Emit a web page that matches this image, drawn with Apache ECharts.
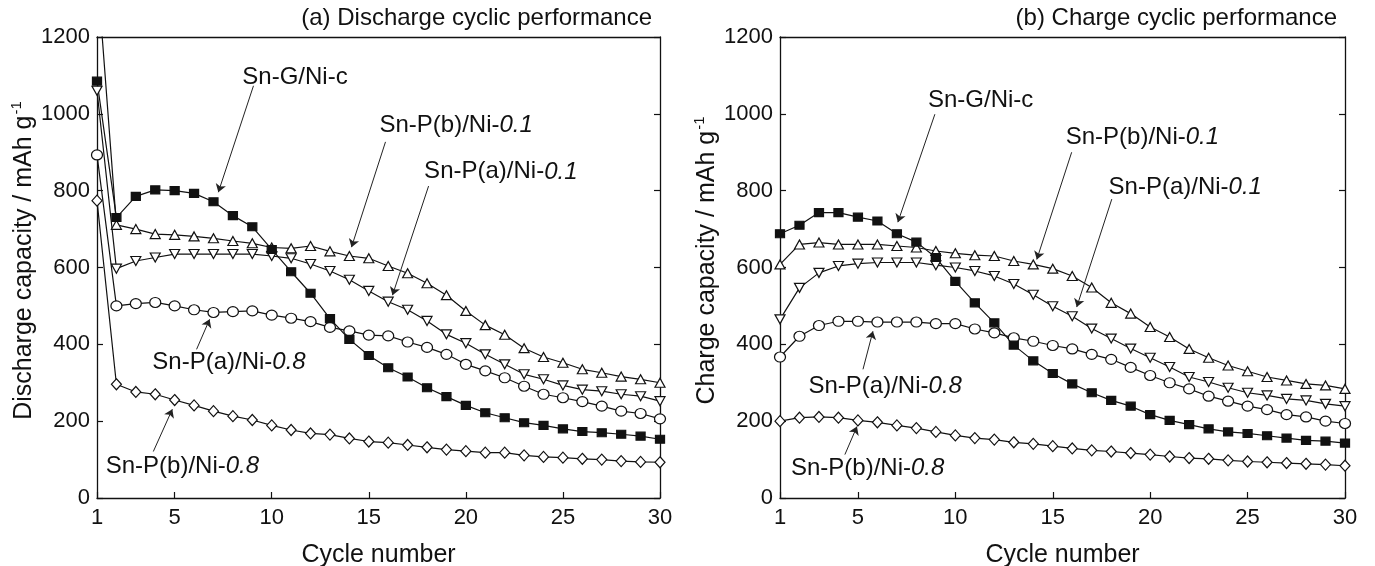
<!DOCTYPE html>
<html>
<head>
<meta charset="utf-8">
<script src="https://cdn.jsdelivr.net/npm/echarts@6/dist/echarts.min.js"></script>
<style>
html,body{margin:0;padding:0;background:#fff;}
#chart{width:1375px;height:566px;}
</style>
</head>
<body>
<div id="chart"></div>
<script>
// ---------- data ----------
const cycles = [1,2,3,4,5,6,7,8,9,10,11,12,13,14,15,16,17,18,19,20,21,22,23,24,25,26,27,28,29,30];
const xTickValues = [1,5,10,15,20,25,30];

// (a) discharge capacity, mAh g-1
const disSnG   = [1085,730,785,802,800,793,771,735,706,647,589,533,467,413,371,339,315,287,264,241,222,209,196,189,180,173,170,166,161,153];
const disPb01  = [1380,711,700,687,685,681,676,669,663,652,650,656,642,630,624,604,585,559,528,487,450,425,390,367,352,335,326,316,309,300];
const disPa01  = [1060,597,617,626,635,635,635,635,635,630,624,609,591,568,539,511,490,461,426,403,374,348,322,309,293,282,278,270,265,252];
const disPa08  = [893,500,506,509,500,490,483,485,487,476,468,459,444,435,424,422,406,392,374,348,331,313,291,270,261,251,239,226,220,206];
const disPb08  = [774,296,276,270,255,241,226,213,203,189,177,168,165,155,147,144,138,132,126,122,118,118,111,107,105,102,100,96,94,93];

// (b) charge capacity, mAh g-1
const chgSnG   = [688,710,743,743,731,721,688,666,626,564,508,456,398,357,324,297,274,254,239,217,202,191,180,172,168,162,156,150,148,143];
const chgPb01  = [608,660,665,660,660,660,656,652,643,637,632,630,617,608,597,578,548,508,480,445,419,388,365,345,330,315,306,297,293,284];
const chgPa01  = [465,547,586,604,610,613,613,613,606,600,591,578,557,529,499,473,441,415,389,365,341,315,302,287,274,267,258,254,245,239];
const chgPa08  = [367,421,449,460,460,458,458,458,454,454,440,430,417,408,397,388,374,361,340,319,300,284,265,252,239,230,217,211,200,194];
const chgPb08  = [200,209,211,209,202,197,189,182,172,163,156,152,145,141,135,129,124,121,117,113,108,104,102,98,95,93,91,89,87,84];

// annotation labels (rich text) and their anchor / arrow points in data units
const annLabels = ['{n|Sn-G/Ni-c}','{n|Sn-P(b)/Ni-}{i|0.1}','{n|Sn-P(a)/Ni-}{i|0.1}','{n|Sn-P(a)/Ni-}{i|0.8}','{n|Sn-P(b)/Ni-}{i|0.8}'];
const annTextA  = [[11.2,1095],[19.5,969],[21.8,849],[7.8,353],[5.4,82]];
const annArrowA = [[[9.06,1073],[7.25,796]],[[15.86,927],[14.11,653]],[[18.08,812],[16.22,528]],[[6.13,387],[6.80,465]],[[3.90,121],[4.88,231]]];
const annTextB  = [[11.3,1034],[19.6,939],[21.8,809],[6.4,290],[5.5,76]];
const annArrowB = [[[8.95,999],[7.05,718]],[[15.97,900],[14.18,621]],[[18.03,778],[16.23,497]],[[5.26,335],[5.77,434]],[[4.33,113],[4.95,186]]];

// ---------- styles ----------
const FONT = "'Liberation Sans', Arial, Helvetica, sans-serif";
const INK = '#111';
const LW = 1.2;

function pairs(vals){ return cycles.map((c,i)=>[c, vals[i]]); }

function markers(kind){
  switch(kind){
    case 'square': return {symbol:'rect', symbolSize:[9,8], fill:INK};
    case 'up':     return {symbol:'triangle', symbolSize:[10,9], fill:'#fff'};
    case 'down':   return {symbol:'triangle', symbolSize:[10,9], fill:'#fff', rotate:180};
    case 'circle': return {symbol:'circle', symbolSize:[11,10], fill:'#fff'};
    case 'diamond':return {symbol:'diamond', symbolSize:[10,11], fill:'#fff'};
  }
}

function line(name, vals, kind, g){
  const m = markers(kind);
  const s = {
    name, type:'line', xAxisIndex:g*2, yAxisIndex:g*2,
    data: pairs(vals), symbol:m.symbol, symbolSize:m.symbolSize,
    showAllSymbol:true, clip:true, z: 3,
    lineStyle:{color:INK, width:LW},
    itemStyle:{color:m.fill, borderColor:INK, borderWidth:LW},
    emphasis:{disabled:true}
  };
  if(m.rotate) s.symbolRotate = m.rotate;
  return s;
}

function annotationSeries(g, textPos, arrows){
  return {
    type:'line', xAxisIndex:g*2, yAxisIndex:g*2, data:[], silent:true, z:5,
    markLine:{
      silent:true, symbol:['none','arrow'], symbolSize:8, animation:false,
      lineStyle:{color:'#222', width:1, type:'solid'},
      label:{show:false}, emphasis:{disabled:true},
      data: arrows.map(a=>[{coord:a[0]},{coord:a[1]}])
    },
    markPoint:{
      silent:true, symbol:'circle', symbolSize:1, animation:false,
      itemStyle:{color:'rgba(0,0,0,0)'},
      label:{show:true, position:'inside', color:INK,
        rich:{ n:{fontSize:24, fontFamily:FONT, color:INK},
               i:{fontSize:24, fontFamily:FONT, fontStyle:'italic', color:INK} } },
      data: textPos.map((p,k)=>({coord:p, label:{formatter:annLabels[k]}}))
    }
  };
}

function xAxes(g){
  return [
    { gridIndex:g, type:'value', min:1, max:30, position:'bottom',
      axisLine:{show:true, onZero:false, lineStyle:{color:INK, width:1.3}},
      axisTick:{show:true, inside:true, length:6, customValues:xTickValues, lineStyle:{color:INK, width:1.2}},
      axisLabel:{customValues:xTickValues, margin:9, fontSize:22, fontFamily:FONT, color:INK},
      splitLine:{show:false},
      name:'Cycle number', nameLocation:'middle', nameGap:45,
      nameTextStyle:{fontSize:25, fontFamily:FONT, color:INK} },
    { gridIndex:g, type:'value', min:1, max:30, position:'top',
      axisLine:{show:true, onZero:false, lineStyle:{color:INK, width:1.3}},
      axisTick:{show:false}, axisLabel:{show:false}, splitLine:{show:false} }
  ];
}

function yAxes(g, title){
  return [
    { gridIndex:g, type:'value', min:0, max:1200, interval:200, position:'left',
      axisLine:{show:true, onZero:false, lineStyle:{color:INK, width:1.3}},
      axisTick:{show:true, inside:true, length:6, lineStyle:{color:INK, width:1.2}},
      axisLabel:{margin:7, fontSize:22, fontFamily:FONT, color:INK, formatter:(v)=>String(v)},
      splitLine:{show:false},
      name:'{a|' + title + ' / mAh g}{s|-1}', nameLocation:'middle', nameGap:60, nameRotate:90,
      nameTextStyle:{ padding:[0,0,0,14], rich:{
        a:{fontSize:25, fontFamily:FONT, color:INK, lineHeight:28, verticalAlign:'bottom'},
        s:{fontSize:15, fontFamily:FONT, color:INK, lineHeight:28, verticalAlign:'top', padding:[0,0,0,1]} } } },
    { gridIndex:g, type:'value', min:0, max:1200, interval:200, position:'right',
      axisLine:{show:true, onZero:false, lineStyle:{color:INK, width:1.3}},
      axisTick:{show:true, inside:true, length:6, lineStyle:{color:INK, width:1.2}},
      axisLabel:{show:false}, splitLine:{show:false} }
  ];
}

const option = {
  animation:false,
  backgroundColor:'#fff',
  textStyle:{fontFamily:FONT},
  title:[
    { text:'(a) Discharge cyclic performance', right:718, top:1,
      textStyle:{fontSize:24, fontWeight:'normal', fontFamily:FONT, color:INK} },
    { text:'(b) Charge cyclic performance', right:33, top:1,
      textStyle:{fontSize:24, fontWeight:'normal', fontFamily:FONT, color:INK} }
  ],
  grid:[
    {left:97, right:715, top:37, bottom:68, containLabel:false, outerBoundsMode:'none'},
    {left:780, right:30, top:37, bottom:68, containLabel:false, outerBoundsMode:'none'}
  ],
  xAxis:[...xAxes(0), ...xAxes(1)],
  yAxis:[...yAxes(0,'Discharge capacity'), ...yAxes(1,'Charge capacity')],
  series:[
    line('Sn-P(b)/Ni-0.8 (a)', disPb08, 'diamond', 0),
    line('Sn-P(a)/Ni-0.8 (a)', disPa08, 'circle', 0),
    line('Sn-P(a)/Ni-0.1 (a)', disPa01, 'down', 0),
    line('Sn-P(b)/Ni-0.1 (a)', disPb01, 'up', 0),
    line('Sn-G/Ni-c (a)', disSnG, 'square', 0),
    line('Sn-P(b)/Ni-0.8 (b)', chgPb08, 'diamond', 1),
    line('Sn-P(a)/Ni-0.8 (b)', chgPa08, 'circle', 1),
    line('Sn-P(a)/Ni-0.1 (b)', chgPa01, 'down', 1),
    line('Sn-P(b)/Ni-0.1 (b)', chgPb01, 'up', 1),
    line('Sn-G/Ni-c (b)', chgSnG, 'square', 1),
    annotationSeries(0, annTextA, annArrowA),
    annotationSeries(1, annTextB, annArrowB)
  ]
};

const chart = echarts.init(document.getElementById('chart'));
chart.setOption(option);
</script>
</body>
</html>
